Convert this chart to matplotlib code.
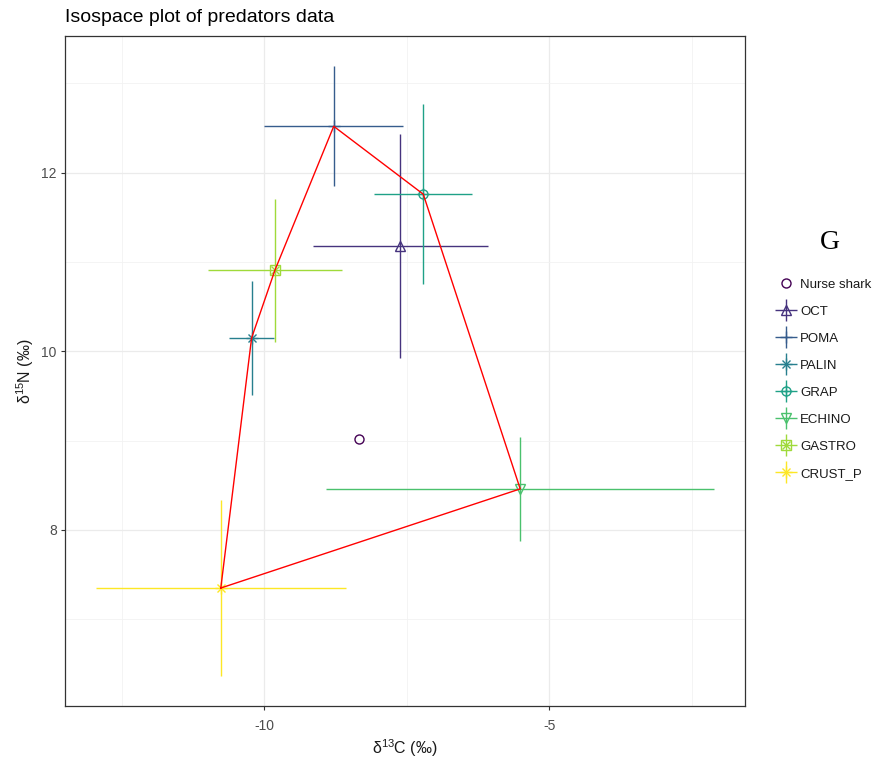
import matplotlib
matplotlib.use("Agg")
import matplotlib.pyplot as plt
from matplotlib.lines import Line2D
from matplotlib.legend_handler import HandlerTuple
import numpy as np

plt.rcParams['font.family'] = ['Liberation Sans', 'DejaVu Sans']
plt.rcParams['mathtext.fontset'] = 'custom'
plt.rcParams['mathtext.rm'] = 'Liberation Sans'
plt.rcParams['mathtext.it'] = 'Liberation Sans:italic'
plt.rcParams['mathtext.bf'] = 'Liberation Sans:bold'

# ---- data ----
groups = ["Nurse shark", "OCT", "POMA", "PALIN", "GRAP", "ECHINO", "GASTRO", "CRUST_P"]
d13C_mean = [-8.33, -7.61, -8.78, -10.22, -7.21, -5.51, -9.81, -10.76]
d15N_mean = [9.02, 11.18, 12.52, 10.15, 11.76, 8.46, 10.91, 7.35]
d13C_sd = [0.0, 1.54, 1.22, 0.40, 0.86, 3.40, 1.18, 2.19]
d15N_sd = [0.0, 1.25, 0.67, 0.64, 1.01, 0.58, 0.80, 0.98]
colors = ["#440154", "#46337E", "#365C8D", "#277F8E", "#1FA187", "#4AC16D", "#9FDA3A", "#FDE725"]
# marker components (overlaid) per group, mimicking ggplot shapes 1,2,3,8,10,6,7,8
markers = [["o"], ["^"], ["+"], ["+", "x"], ["o", "+"], ["v"], ["s", "x"], ["+", "x"]]

fig = plt.figure(figsize=(8.77, 7.67), dpi=100)
ax = fig.add_axes([65/877, 61/767, 680/877, 670/767])

x = np.array(d13C_mean); y = np.array(d15N_mean)
xe = np.array(d13C_sd); ye = np.array(d15N_sd)

# convex hull of group means (excluding Nurse shark)
pts = sorted(zip(x[1:], y[1:]))
def cross(o, a, b):
    return (a[0]-o[0])*(b[1]-o[1]) - (a[1]-o[1])*(b[0]-o[0])
lower, upper = [], []
for p in pts:
    while len(lower) >= 2 and cross(lower[-2], lower[-1], p) <= 0:
        lower.pop()
    lower.append(p)
for p in reversed(pts):
    while len(upper) >= 2 and cross(upper[-2], upper[-1], p) <= 0:
        upper.pop()
    upper.append(p)
hull = lower[:-1] + upper[:-1] + [lower[0]]
hx, hy = zip(*hull)

def msize(m):
    return {"o": 6.5, "^": 7, "v": 7, "s": 6.5, "+": 8, "x": 6}[m]

handles = []
for i, g in enumerate(groups):
    c = colors[i]
    if xe[i] > 0 or ye[i] > 0:
        ax.errorbar(x[i], y[i], xerr=xe[i], yerr=ye[i], fmt='none', ecolor=c,
                    elinewidth=1.0, capsize=0, zorder=3)
    parts = []
    if xe[i] > 0 or ye[i] > 0:
        parts.append(Line2D([], [], marker='+', ls='none', mec=c, ms=16, mew=1.0))
    for m in markers[i]:
        ax.plot(x[i], y[i], marker=m, ls='none', mfc='none', mec=c, ms=msize(m),
                mew=1.0, zorder=4)
        parts.append(Line2D([], [], marker=m, ls='none', mfc='none', mec=c,
                            ms=msize(m), mew=1.0))
    handles.append(tuple(parts))

ax.plot(hx, hy, color='red', lw=1.0, zorder=5)

xlo = np.min(x - xe); xhi = np.max(x + xe)
ylo = np.min(y - ye); yhi = np.max(y + ye)
xr = xhi - xlo; yr = yhi - ylo
ax.set_xlim(xlo - 0.05*xr, xhi + 0.05*xr)
ax.set_ylim(ylo - 0.05*yr, yhi + 0.05*yr)

ax.set_xticks([-10, -5])
ax.set_xticklabels(["-10", "-5"])
ax.set_yticks([8, 10, 12])
ax.set_xticks([-12.5, -7.5, -2.5], minor=True)
ax.set_yticks([7, 9, 11, 13], minor=True)
ax.tick_params(which='major', length=3, width=0.8, color='#333333', labelcolor='#4D4D4D',
               labelsize=10, pad=3)
ax.tick_params(axis='x', which='major', pad=6)
ax.tick_params(which='minor', length=0)
ax.grid(which='major', color='#EBEBEB', lw=0.9, zorder=0)
ax.grid(which='minor', color='#F2F2F2', lw=0.6, zorder=0)
ax.set_axisbelow(True)
for s in ax.spines.values():
    s.set_color('#333333'); s.set_linewidth(0.9)

ax.set_xlabel(r'$\mathregular{\delta^{13}}$C (‰)', fontsize=11.5, color='#1A1A1A', labelpad=3.5)
ax.set_ylabel(r'$\mathregular{\delta^{15}}$N (‰)', fontsize=11.5, color='#1A1A1A', labelpad=4)
fig.text(65/877, 1 - 17/767, "Isospace plot of predators data", fontsize=14, color='black',
         ha='left', va='center')

fig.text(830/877, 1 - 243/767, "G", fontsize=20, family='Liberation Serif',
         ha='center', va='center', color='black')

leg = fig.legend(handles=handles, labels=groups, loc='upper left',
                 bbox_to_anchor=(768/877, 1 - 268/767), frameon=False, fontsize=9.5,
                 labelspacing=1.12, handlelength=1.1, handletextpad=0.55, borderpad=0.3,
                 handler_map={tuple: HandlerTuple(ndivide=1, pad=0)})
for t in leg.get_texts():
    t.set_color('#1A1A1A')

fig.savefig("out.png", dpi=100)
